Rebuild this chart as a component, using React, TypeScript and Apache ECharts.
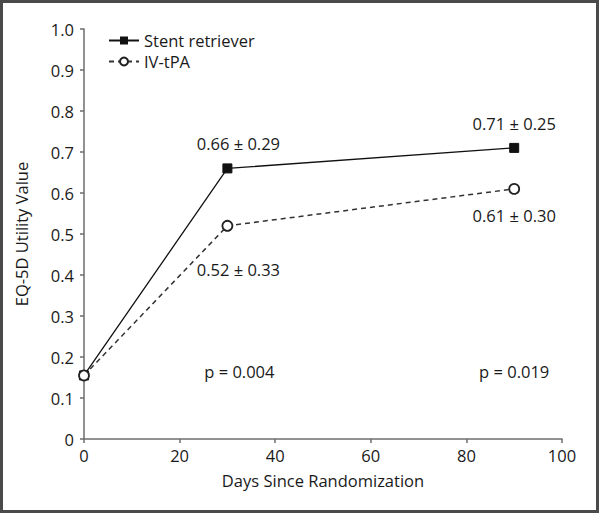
import React, { useEffect, useRef } from "react";
import * as echarts from "echarts";

const days = [0, 30, 90];
const stentValues = [0.155, 0.66, 0.71];
const stentSD = [null, 0.29, 0.25];
const tpaValues = [0.155, 0.52, 0.61];
const tpaSD = [null, 0.33, 0.3];
const pDays = [30, 90];
const pLabels = ["p = 0.004", "p = 0.019"];
const pY = 0.165;
const seriesNames = ["Stent retriever", "IV-tPA"];

const FONT = "'Open Sans', 'Noto Sans', sans-serif";
const TXT = "#1a1a1a";
const FS = 16.5;

export default function App() {
  const ref = useRef<HTMLDivElement>(null);
  useEffect(() => {
    if (!ref.current) return;
    const chart = echarts.init(ref.current, null, { renderer: "svg" });
    const fmt = (v: number, sd: number) => `${v.toFixed(2)} ± ${sd.toFixed(2)}`;
    const stentData = days.map((d, i) => ({
      value: [d, stentValues[i]],
      label:
        stentSD[i] == null
          ? { show: false }
          : { show: true, position: "top", distance: 11, formatter: fmt(stentValues[i], stentSD[i] as number), offset: i === 1 ? [11, 0] : [0, 0] },
    }));
    const tpaData = days.map((d, i) => ({
      value: [d, tpaValues[i]],
      label:
        tpaSD[i] == null
          ? { show: false }
          : { show: true, position: "bottom", distance: i === 1 ? 29 : 12, formatter: fmt(tpaValues[i], tpaSD[i] as number), offset: i === 1 ? [11, 0] : [0, 0] },
    }));
    chart.setOption({
      animation: false,
      backgroundColor: "#fff",
      textStyle: { fontFamily: FONT },
      grid: { left: 84, right: 38, top: 29, bottom: 75, containLabel: false },
      legend: {
        orient: "vertical",
        left: 103,
        top: 27,
        itemWidth: 30,
        itemHeight: 10,
        itemGap: 4,
        textStyle: { fontFamily: FONT, fontSize: FS, color: TXT },
        data: seriesNames,
      },
      xAxis: {
        type: "value",
        min: 0,
        max: 100,
        interval: 20,
        name: "Days Since Randomization",
        nameLocation: "middle",
        nameGap: 33,
        nameTextStyle: { fontFamily: FONT, fontSize: FS, color: TXT },
        axisLine: { lineStyle: { color: "#6d6d6d", width: 1.5 } },
        axisTick: { show: true, length: 4, lineStyle: { color: "#6d6d6d", width: 1.5 } },
        axisLabel: { fontFamily: FONT, fontSize: FS, color: TXT, margin: 8 },
        splitLine: { show: false },
      },
      yAxis: {
        type: "value",
        min: 0,
        max: 1,
        interval: 0.1,
        name: "EQ-5D Utility Value",
        nameLocation: "middle",
        nameGap: 54,
        nameTextStyle: { fontFamily: FONT, fontSize: FS, color: TXT },
        axisLine: { show: true, lineStyle: { color: "#6d6d6d", width: 1.5 } },
        axisTick: { show: true, length: 4, lineStyle: { color: "#6d6d6d", width: 1.5 } },
        axisLabel: {
          fontFamily: FONT,
          fontSize: FS,
          color: TXT,
          margin: 10,
          formatter: (v: number) => (v === 0 ? "0" : v.toFixed(1)),
        },
        splitLine: { show: false },
      },
      series: [
        {
          name: seriesNames[0],
          type: "line",
          data: stentData,
          symbol: "rect",
          symbolSize: 9,
          itemStyle: { color: "#111", borderColor: "#111" },
          lineStyle: { color: "#111", width: 1.3, type: "solid" },
          label: { fontFamily: FONT, fontSize: FS, color: TXT },
          z: 2,
        },
        {
          name: seriesNames[1],
          type: "line",
          data: tpaData,
          symbol: "circle",
          symbolSize: 10,
          itemStyle: { color: "#fff", borderColor: "#222", borderWidth: 1.8 },
          lineStyle: { color: "#333", width: 1.5, type: [5, 4] },
          label: { fontFamily: FONT, fontSize: FS, color: TXT },
          z: 3,
        },
        {
          type: "scatter",
          symbolSize: 1,
          silent: true,
          itemStyle: { color: "#ffffff", opacity: 1 },
          data: pDays.map((d, i) => ({
            value: [d, pY],
            label: { formatter: pLabels[i], offset: i === 0 ? [12, 0] : [0, 0] },
          })),
          label: { show: true, position: "top", distance: -9, fontFamily: FONT, fontSize: FS, color: TXT, opacity: 1 },
          z: 1,
        },
      ],
      graphic: [
        {
          type: "rect",
          shape: { x: 1.5, y: 1.5, width: 596, height: 510 },
          style: { fill: "none", stroke: "#4a4a4a", lineWidth: 3 },
          silent: true,
        },
      ],
    });
    return () => chart.dispose();
  }, []);
  return <div ref={ref} style={{ position: "absolute", left: 0, top: 0, width: 600, height: 514 }} />;
}
